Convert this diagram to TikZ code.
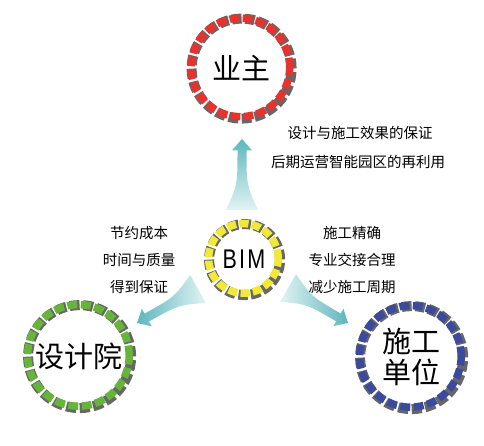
\documentclass[tikz,border=0pt]{standalone}
\usepackage{fontspec}
\setmainfont{Liberation Sans}
\newfontfamily\cjk{Noto Sans CJK SC}
\newfontfamily\bimfont[LetterSpace=10]{Liberation Sans}
\usetikzlibrary{calc}
\definecolor{ringred}{HTML}{E8322E}
\definecolor{ringyellow}{HTML}{F2E838}
\definecolor{ringgreen}{HTML}{66B53A}
\definecolor{ringblue}{HTML}{3C4A9E}
\definecolor{tileshadow}{HTML}{676767}
\definecolor{arrowdark}{HTML}{5DB6BE}
\definecolor{arrowlight}{HTML}{E2F3F3}
\newcommand\ringdraw[4]{%
  \pgfmathsetmacro\rper{2*pi*#2/#3}%
  \pgfmathsetmacro\ron{0.74*\rper}%
  \pgfmathsetmacro\roff{\rper-\ron}%
  \pgfmathsetmacro\rin{#2-0.7}%
  \draw[line width=10pt, draw=tileshadow, dash pattern=on \ron pt off \roff pt]
    ($(#1.center)+(0.6,-0.6)$) circle [radius=#2pt];
  \draw[line width=7.5pt, draw=#4, dash pattern=on \ron pt off \roff pt]
    ($(#1.center)+(-0.6,0.6)$) circle [radius=\rin pt];
}
\newcommand\horn[2]{%
  \shade[horn]
    ($(#1)!16pt!90:(#2)$)
    .. controls ($(#1)!0.35!(#2)!4.5pt!90:(#2)$) .. ($(#1)!0.84!(#2)!4.5pt!90:(#2)$)
    -- ($(#1)!0.84!(#2)!10pt!90:(#2)$)
    -- (#2)
    -- ($(#1)!0.84!(#2)!10pt!-90:(#2)$)
    -- ($(#1)!0.84!(#2)!4.5pt!-90:(#2)$)
    .. controls ($(#1)!0.35!(#2)!4.5pt!-90:(#2)$) .. ($(#1)!16pt!-90:(#2)$)
    -- cycle;
}
\begin{document}
\begin{tikzpicture}[x=1pt,y=1pt,
  big/.style={font=\cjk\fontsize{29}{32}\selectfont, align=center, inner sep=0pt},
  small/.style={font=\cjk\fontsize{14.5}{17}\selectfont, inner sep=0pt},
  horn/.style={draw=none}]
\useasboundingbox[fill=white] (0,0) rectangle (484,-446);

% arrows
\coordinate (upA) at (242,-210);
\coordinate (upB) at (242,-139);
\coordinate (lfA) at (198,-289);
\coordinate (lfB) at (137,-323);
\coordinate (rtA) at (288,-288);
\coordinate (rtB) at (348,-323);
\begin{scope}[horn/.append style={top color=arrowdark, bottom color=arrowlight}]
\horn{upA}{upB}
\end{scope}
\begin{scope}[horn/.append style={left color=arrowdark, right color=arrowlight}]
\horn{lfA}{lfB}
\end{scope}
\begin{scope}[horn/.append style={right color=arrowdark, left color=arrowlight}]
\horn{rtA}{rtB}
\end{scope}

% nodes
\node[big] (owner) at (241,-68) {业主};
\node[font=\bimfont\fontsize{25}{28}\selectfont, inner sep=0pt] (bim) at (244,-259) {\scalebox{0.86}[1.08]{BIM}};
\node[big] (design) at (79,-356) {设计院};
\node[big] (build) at (411,-357) {施工\\[-1pt]单位};

\ringdraw{owner}{50}{24}{ringred}
\ringdraw{bim}{35.5}{18}{ringyellow}
\ringdraw{design}{51.5}{24}{ringgreen}
\ringdraw{build}{51.5}{24}{ringblue}

% texts
\node[small] (o1) at (360,-133) {设计与施工效果的保证};
\node[small] (o2) at (358,-162) {后期运营智能园区的再利用};
\node[small] (d1) at (139,-233) {节约成本};
\node[small] (d2) at (139,-260) {时间与质量};
\node[small] (d3) at (139,-287) {得到保证};
\node[small] (b1) at (352,-233) {施工精确};
\node[small] (b2) at (352,-260) {专业交接合理};
\node[small] (b3) at (352,-287) {减少施工周期};
\end{tikzpicture}
\end{document}
